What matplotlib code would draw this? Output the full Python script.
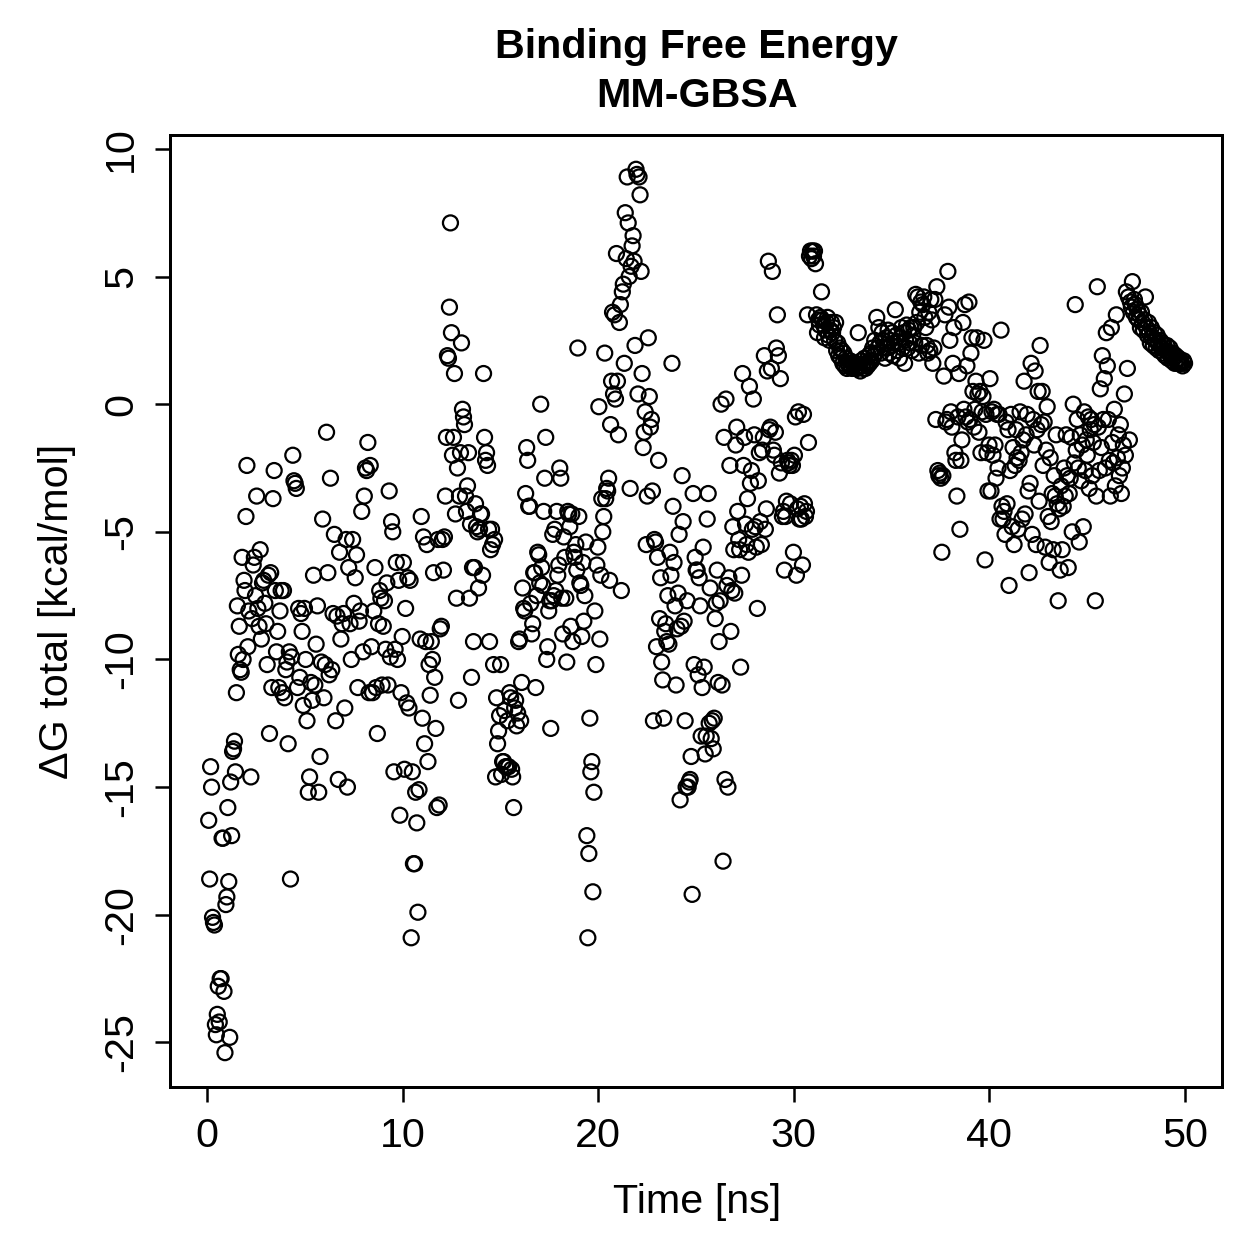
import numpy as np
import matplotlib
matplotlib.use("Agg")
import matplotlib.pyplot as plt

plt.rcParams['font.family'] = ['Liberation Sans', 'DejaVu Sans']

seg_00 = (0.05, 2.15, [-16.3, -18.6, -14.2, -15.0, -20.1, -20.3, -20.4, -24.3, -24.7, -23.9,
                      -22.8, -24.2, -22.5, -22.5, -17.0, -17.0, -23.0, -25.4, -19.6, -19.3,
                      -15.8, -18.7, -24.8, -14.8, -16.9, -13.6, -13.5, -13.2, -14.4, -11.3,
                      -7.9, -9.8, -8.7, -10.4, -10.5, -6.0, -10.0, -6.9, -7.3, -4.4,
                      -2.4, -9.5, -8.1])
seg_02 = (2.2, 5.0, [-14.6, -8.4, -6.3, -6.0, -7.5, -3.6, -8.0, -8.7, -5.7, -9.2,
                     -7.0, -6.9, -7.8, -8.6, -10.2, -6.7, -12.9, -6.6, -11.1, -3.7,
                     -2.6, -7.3, -9.7, -8.9, -11.1, -8.1, -7.3, -11.3, -7.3, -11.5,
                     -10.4, -10.1, -13.3, -9.7, -18.6, -9.9, -2.0, -3.0, -3.1, -3.3,
                     -11.1, -8.0, -10.7, -8.2, -8.9, -11.8, -8.0])
seg_05 = (5.0, 8.0, [-10.0, -12.4, -15.2, -14.6, -10.9, -11.6, -6.7, -11.0, -9.4, -7.9,
                     -15.2, -13.8, -10.1, -4.5, -11.5, -10.2, -1.1, -6.6, -10.6, -2.9,
                     -10.4, -8.2, -5.1, -12.4, -8.3, -14.7, -5.8, -9.2, -8.6, -8.2,
                     -11.9, -5.3, -15.0, -6.4, -8.6, -10.0, -5.3, -7.8, -6.8, -5.9,
                     -11.1, -8.5, -8.1, -4.2, -9.7])
seg_08 = (8.0, 10.0, [-3.6, -2.5, -2.6, -1.5, -11.3, -2.4, -9.5, -11.3, -8.1, -6.4,
                      -11.1, -12.9, -8.6, -7.3, -7.6, -11.0, -8.7, -7.7, -9.6, -7.0,
                      -11.0, -3.4, -9.9, -4.6, -5.0, -14.4, -9.6, -6.2, -10.0, -6.9,
                      -16.1, -11.3, -9.1])
seg_10 = (10.0, 12.0, [-6.2, -14.3, -8.0, -11.7, -6.8, -11.9, -6.9, -20.9, -14.4, -18.0,
                       -18.0, -15.2, -16.4, -19.9, -15.1, -9.2, -4.4, -12.3, -5.2, -13.3,
                       -9.3, -5.5, -14.0, -10.2, -11.4, -9.3, -10.0, -6.6, -10.7, -12.7,
                       -15.8, -5.3, -15.7, -8.8, -8.7])
seg_12 = (12.0, 14.0, [-5.3, -6.5, -5.2, -3.6, -1.3, 1.9, 1.8, 3.8, 7.1, 2.8,
                       -2.0, -1.3, 1.2, -4.3, -7.6, -2.5, -11.6, -3.6, -1.9, 2.4,
                       -0.2, -0.5, -0.8, -3.6, -4.2, -3.2, -1.9, -7.6, -4.7, -10.7,
                       -6.4, -9.3, -6.4, -3.9, -4.8, -5.0, -7.2, -4.9, -4.3])
seg_14 = (14.0, 16.0, [-4.3, -6.7, 1.2, -1.3, -2.2, -1.9, -2.4, -4.9, -9.3, -5.7,
                       -4.9, -5.5, -10.2, -5.3, -14.6, -11.5, -13.3, -12.8, -12.2, -10.2,
                       -14.5, -14.0, -14.0, -12.0, -14.2, -14.2, -12.4, -14.2, -11.3, -11.5,
                       -14.3, -14.6, -15.8, -11.9, -11.6, -12.6, -12.1, -9.3, -9.2])
seg_16 = (16.0, 18.0, [-12.4, -10.9, -7.2, -8.0, -8.1, -3.5, -1.7, -2.2, -4.0, -4.0,
                       -7.8, -9.0, -8.6, -6.6, -6.6, -11.1, -7.5, -5.8, -5.9, -7.0,
                       0.0, -6.4, -7.1, -4.2, -2.9, -1.3, -10.0, -9.5, -8.1, -7.7,
                       -12.7, -7.7, -5.1, -7.5, -4.9, -7.3, -4.2, -6.7, -6.3])
seg_18 = (18.0, 20.0, [-2.5, -2.9, -7.6, -9.0, -5.2, -6.0, -7.6, -10.1, -4.2, -4.3,
                       -4.8, -8.7, -4.3, -9.3, -5.8, -6.0, -5.5, -6.5, 2.2, -4.4,
                       -7.0, -7.1, -9.1, -6.2, -8.5, -7.5, -5.4, -16.9, -20.9, -17.6,
                       -12.3, -14.4, -14.0, -19.1, -15.2, -8.1, -10.2, -6.3, -5.6])
seg_20 = (20.0, 22.0, [-0.1, -9.2, -6.7, -3.7, -5.0, -4.4, 2.0, -3.7, -3.3, -3.4,
                       -2.9, -6.9, -0.8, 0.9, 3.6, 0.4, 3.5, 0.2, 5.9, 0.9,
                       -1.2, 3.2, 3.9, -7.3, 4.4, 4.7, 1.6, 7.5, 5.7, 8.9,
                       7.1, 5.0, -3.3, 5.4, 6.2, 6.6, 5.6, 2.3, 9.2, 9.0])
seg_22 = (22.0, 24.0, [0.4, 8.9, 8.2, 5.2, 1.2, -1.7, -1.1, -0.3, -5.5, -3.6,
                       2.6, 0.3, -0.9, -0.6, -3.4, -12.4, -5.3, -5.4, -9.5, -6.0,
                       -2.2, -8.4, -6.8, -10.1, -10.8, -12.3, -8.9, -8.6, -9.3, -7.5,
                       -9.4, -5.8, -6.7, 1.6, -4.0, -6.2, -7.9, -11.0])
seg_24 = (24.0, 26.0, [-8.8, -7.4, -5.1, -15.5, -8.7, -2.8, -4.6, -8.5, -12.4, -15.0,
                       -7.7, -15.0, -14.8, -14.7, -13.8, -19.2, -3.5, -10.2, -6.0, -6.5,
                       -6.5, -10.6, -6.8, -7.9, -13.0, -11.1, -5.6, -10.3, -13.7, -13.0,
                       -4.5, -3.5, -12.5, -7.2, -13.1, -12.4, -13.5, -12.3, -8.4])
seg_26 = (26.0, 28.0, [-7.8, -6.5, -10.9, -9.3, -7.7, 0.0, -11.0, -17.9, -1.3, -14.7,
                       0.2, -7.1, -15.0, -6.8, -2.4, -8.9, -7.3, -4.8, -5.7, -7.4,
                       -1.6, -0.9, -4.2, -5.3, -5.7, -10.3, -6.7, 1.2, -2.4, -1.3,
                       -4.7, -5.5, -3.7, -5.8, 0.7, -3.1, -2.6, -4.9, 0.2, -1.2])
seg_28 = (28.0, 30.0, [-4.8, -5.6, -8.0, -3.0, -1.9, -4.6, -5.5, -1.8, -1.3, 1.9,
                       -4.9, -4.1, 1.3, 5.6, -1.0, -0.9, 1.4, 5.2, -1.8, -2.0,
                       -1.1, 2.2, 3.5, 1.9, -2.7, 1.0, -2.3, -4.4, -4.2, -6.5,
                       -4.4, -3.8, -2.2, -2.3, -2.4, -3.9, -2.2, -2.4, -5.8])
seg_30 = (30.0, 32.0, [-2.0, -0.5, -6.7, -4.1, -0.3, -4.5, -4.0, -4.5, -6.3, -0.4,
                       -3.9, -4.4, -4.2, 3.5, -1.5, 5.8, 6.0, 5.7, 6.0, 5.8,
                       6.0, 5.5, 3.5, 2.8, 3.3, 3.1, 3.4, 4.4, 3.3, 3.1,
                       2.6, 2.9, 3.2, 3.4, 2.7, 2.5, 2.9, 3.2, 2.8])
seg_32 = (32.0, 34.0, [3.0, 2.5, 3.2, 2.1, 2.4, 1.9, 2.2, 1.8, 2.1, 1.6,
                       2.0, 1.5, 1.8, 1.4, 1.6, 1.5, 1.7, 1.5, 1.4, 1.6,
                       1.5, 1.4, 1.6, 1.4, 2.8, 1.5, 1.3, 1.7, 1.5, 1.4,
                       1.8, 1.4, 1.6, 1.5, 1.9, 1.6, 2.0, 1.7])
seg_34 = (34.0, 36.0, [2.2, 1.9, 2.5, 2.0, 3.4, 2.2, 3.0, 2.4, 2.0, 2.8,
                       2.5, 2.2, 1.8, 2.6, 2.2, 2.9, 2.0, 2.5, 2.3, 2.8,
                       1.9, 2.4, 3.7, 2.7, 2.1, 2.4, 1.8, 2.6, 3.0, 2.2,
                       2.8, 1.6, 2.5, 3.1, 2.2, 2.9, 2.4, 3.0])
seg_36 = (36.0, 38.0, [2.1, 2.7, 3.0, 2.4, 4.3, 3.2, 4.2, 2.0, 3.6, 4.0,
                       2.3, 3.9, 4.2, 3.4, 3.0, 2.3, 2.0, 3.6, 2.1, 4.1,
                       3.3, 1.6, 2.2, 4.1, -0.6, 4.6, -2.6, -2.8, -2.7, -2.9,
                       -5.8, -2.8, 1.1, 3.5, -0.7, -0.6, 5.2, 3.8, 2.5])
seg_38 = (38.0, 40.0, [-0.3, -0.9, 1.6, 3.0, -1.9, -2.2, -3.6, -0.5, 1.2, -4.9,
                       -2.2, -1.4, 3.2, -0.2, 3.9, -0.5, 1.5, -0.7, 4.0, -0.6,
                       2.0, 2.6, 0.5, -0.9, -0.2, 0.9, 2.6, 0.4, -1.1, 0.5,
                       -1.9, -0.3, 0.3, 2.5, -6.1, -0.4, -1.9, -3.4, -1.6])
seg_40 = (40.0, 42.0, [1.0, -3.4, -0.3, -2.0, -0.2, -1.6, -2.9, -0.4, -2.5, -0.4,
                       -4.5, 2.9, -4.0, -4.5, -4.2, -5.1, -0.7, -3.9, -1.0, -7.1,
                       -2.6, -0.4, -4.8, -1.7, -5.5, -2.4, -1.0, -2.1, -4.9, -2.2,
                       -0.3, -1.9, -4.5, -1.4, 0.9, -4.3, -1.2, -0.4, -3.4])
seg_42 = (42.0, 44.0, [-6.6, -3.1, 1.6, -5.1, -0.6, -1.6, 1.3, -5.5, -1.0, 0.5,
                       -3.8, 2.3, -0.8, 0.5, -2.4, -0.7, -5.6, -1.8, -0.1, -4.4,
                       -6.2, -2.1, -4.6, -3.5, -5.7, -2.8, -3.6, -1.2, -3.9, -7.7,
                       -4.1, -6.5, -3.2, -5.7, -4.0, -2.5, -3.6, -1.2, -2.8])
seg_44 = (44.0, 46.0, [-6.4, -3.5, -2.9, -1.3, -5.0, 0.0, -2.3, 3.9, -1.8, -0.6,
                       -2.5, -5.4, -1.2, -3.0, -1.6, -4.8, -0.3, -2.6, -1.4, -2.0,
                       -0.5, -3.3, -1.0, -0.6, -2.8, -1.5, -0.8, -7.7, -3.6, 4.6,
                       -0.9, -2.6, 0.6, -1.7, 1.9, -0.6, 1.0, -2.5, 2.8])
seg_46 = (46.0, 48.0, [1.5, -0.6, -2.2, -3.6, 3.0, -1.5, -2.3, -0.2, -3.2, 3.5,
                       -2.1, -1.2, -2.8, -0.8, -3.5, -2.5, -1.6, 0.4, -2.0, 4.4,
                       1.4, 4.2, -1.4, 4.0, 3.8, 4.8, 3.6, 4.1, 3.9, 3.4,
                       3.7, 3.3, 3.5, 3.0, 3.6, 3.2, 2.9, 3.3, 4.2])
seg_48 = (48.0, 50.0, [3.0, 2.7, 3.2, 2.8, 2.4, 3.0, 2.6, 2.3, 2.8, 2.5,
                       2.2, 2.7, 2.4, 2.1, 2.5, 2.2, 2.4, 2.0, 2.3, 1.9,
                       2.1, 2.3, 1.8, 2.0, 2.2, 1.9, 1.7, 2.0, 1.8, 1.6,
                       1.9, 1.7, 1.6, 1.8, 1.6, 1.7, 1.6, 1.5, 1.7, 1.6])

segments = [seg_00, seg_02, seg_05, seg_08, seg_10, seg_12, seg_14, seg_16,
            seg_18, seg_20, seg_22, seg_24, seg_26, seg_28, seg_30, seg_32,
            seg_34, seg_36, seg_38, seg_40, seg_42, seg_44, seg_46, seg_48]

x_ticks = [0, 10, 20, 30, 40, 50]
y_ticks = [-25, -20, -15, -10, -5, 0, 5, 10]


def build_series(segs):
    # frames are evenly spaced inside each time window
    times, values = [], []
    for start, end, vals in segs:
        n = len(vals)
        step = (end - start) / n
        times.extend(start + step * (np.arange(n) + 0.5))
        values.extend(vals)
    return np.array(times), np.array(values)


def main():
    time, dg = build_series(segments)

    fig = plt.figure(figsize=(7, 7), dpi=180)
    ax = fig.add_axes([0.135, 0.137, 0.835, 0.756])

    ax.scatter(time, dg, s=36, facecolors='none', edgecolors='black', linewidths=0.9)

    ax.set_xlim(-1.9, 51.9)
    ax.set_ylim(-26.76, 10.55)
    ax.set_xticks(x_ticks)
    ax.set_yticks(y_ticks)
    ax.set_xticklabels([str(v) for v in x_ticks])
    ax.set_yticklabels([str(v) for v in y_ticks], rotation=90, va='center')
    ax.tick_params(direction='out', length=6, width=1, labelsize=16.5, pad=6, colors='black')
    for sp in ax.spines.values():
        sp.set_linewidth(1.2)

    fig.text(0.553, 0.963, 'Binding Free Energy', ha='center', va='center',
             fontsize=16.5, fontweight='bold')
    fig.text(0.553, 0.924, 'MM-GBSA', ha='center', va='center',
             fontsize=16.5, fontweight='bold')
    fig.text(0.553, 0.046, 'Time [ns]', ha='center', va='center', fontsize=16.5)
    fig.text(0.045, 0.515, '\u0394G total [kcal/mol]', ha='center', va='center',
             rotation=90, fontsize=16.5)

    fig.savefig('out.png', dpi=180)


if __name__ == "__main__":
    main()
